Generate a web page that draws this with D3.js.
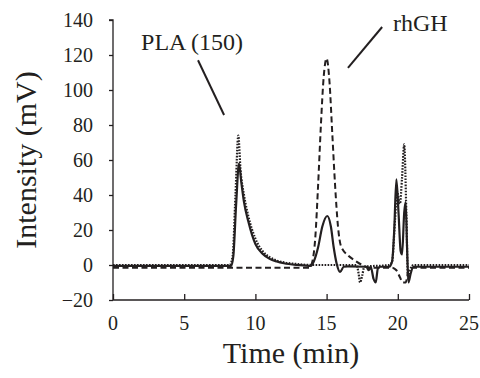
<!DOCTYPE html>
<html>
<head>
<meta charset="utf-8">
<script src="https://cdn.jsdelivr.net/npm/d3@7"></script>
<style>
  body { margin: 0; background: #fff; }
</style>
</head>
<body>
<div id="chart"></div>
<script>
const width = 480
const height = 378
const margin = { left: 113, right: 11, top: 20, bottom: 78 }
const serif = "Liberation Serif, Times New Roman, DejaVu Serif, serif"

const xTicks = [0, 5, 10, 15, 20, 25]
const yTicks = [-20, 0, 20, 40, 60, 80, 100, 120, 140]

// solid trace
const solidT = [0, 8.3, 8.45, 8.65, 8.85, 9.0, 9.2, 9.5, 10, 10.5, 11, 11.5, 12, 13, 13.9, 14.1, 14.4, 14.7, 15.05, 15.3, 15.5, 15.7, 15.95, 16.2, 16.5, 17.8, 17.95, 18.1, 18.3, 18.45, 18.6, 18.8, 19.4, 19.6, 19.75, 19.9, 20.05, 20.2, 20.3, 20.45, 20.55, 20.65, 20.75, 20.9, 21.1, 25]
const solidV = [-0.5, -0.5, 5, 35, 58, 48, 36, 25, 12, 6.5, 3.5, 2, 1, 0, -0.5, 2, 10, 22, 28, 22, 10, 1, -4, -1, -0.8, -1, -3, -1, -8, -10, -2, -1, -1, 2, 20, 49, 30, 8, 6, 30, 36, 10, -10, -5, -1, -1]

// dotted trace
const dotT = [0, 8.2, 8.4, 8.6, 8.8, 8.95, 9.2, 9.5, 10, 10.5, 11, 11.5, 12, 13, 14, 17.1, 17.25, 17.35, 17.5, 17.65, 19.4, 19.6, 19.8, 19.95, 20.15, 20.3, 20.45, 20.6, 20.72, 20.85, 21.1, 25]
const dotV = [0, 0, 5, 40, 74, 55, 40, 28, 15, 8, 4.5, 2.5, 1.5, 0.5, 0, 0, -5, -10, -6, -1, 0, 2, 25, 42, 35, 50, 69, 30, -8, -3, 0, 0]

// dashed trace (rhGH)
const dashT = [0, 13.8, 14.0, 14.2, 14.4, 14.6, 14.8, 15.0, 15.2, 15.4, 15.6, 15.8, 16.0, 16.5, 17.0, 17.5, 18.0, 19.6, 19.9, 20.15, 20.35, 20.55, 20.75, 20.9, 25]
const dashV = [-1.5, -1.5, 2, 15, 45, 80, 108, 118, 105, 75, 45, 22, 11, 5.5, 2.5, 0, -1.5, -1.5, -3, -7, -10, -10, -3, -1.5, -1.5]

const labels = ['PLA (150)', 'rhGH']
const labelAt = [[1.97, 123], [19.66, 134]]
const leaders = [[[5.97, 117], [7.8, 85.7]], [[18.9, 136], [16.5, 112.6]]]

const x = d3.scaleLinear().domain([0, 25]).range([margin.left, width - margin.right])
const y = d3.scaleLinear().domain([-20, 140]).range([height - margin.bottom, margin.top])

const svg = d3.select('#chart')
  .append('svg')
    .attr('width', width)
    .attr('height', height)
    .attr('font-family', serif)

const line = d3.line()
  .x(d => x(d[0]))
  .y(d => y(d[1]))
  .curve(d3.curveMonotoneX)

const series = [
  { t: dashT, v: dashV, dash: '6,3.5', w: 2 },
  { t: dotT, v: dotV, dash: '1.6,1.4', w: 2.2 },
  { t: solidT, v: solidV, dash: null, w: 2.2 },
]

svg.append('g')
  .selectAll('path')
  .data(series)
  .enter().append('path')
    .attr('d', s => line(s.t.map((t, i) => [t, s.v[i]])))
    .attr('fill', 'none')
    .attr('stroke', '#231f20')
    .attr('stroke-width', s => s.w)
    .attr('stroke-dasharray', s => s.dash)

// axes
svg.append('g')
  .attr('transform', `translate(0,${height - margin.bottom})`)
  .call(d3.axisTop(x).tickValues(xTicks).tickSize(6).tickFormat(''))
  .call(g => g.selectAll('path,line').attr('stroke', '#231f20').attr('stroke-width', 1.3))
  .call(g => g.select('.domain').attr('d', `M${x(0)},0H${x(25)}`))

svg.append('g')
  .selectAll('text')
  .data(xTicks)
  .enter().append('text')
    .attr('x', d => x(d))
    .attr('y', height - margin.bottom + 30)
    .attr('text-anchor', 'middle')
    .attr('font-size', 20)
    .attr('font-family', serif)
    .attr('fill', '#231f20')
    .text(d => d)

svg.append('g')
  .attr('transform', `translate(${margin.left},0)`)
  .call(d3.axisLeft(y).tickValues(yTicks).tickSize(4).tickPadding(16))
  .attr('font-family', serif)
  .call(g => g.selectAll('path,line').attr('stroke', '#231f20').attr('stroke-width', 1.3))
  .call(g => g.select('.domain').attr('d', `M-4,${y(140)}H0V${y(-20)}`))
  .call(g => g.selectAll('text')
    .attr('font-size', 20)
    .attr('font-family', serif)
    .attr('fill', '#231f20'))

svg.append('text')
  .attr('x', (x(0) + x(25)) / 2)
  .attr('y', 363)
  .attr('text-anchor', 'middle')
  .attr('font-size', 30)
  .attr('font-family', serif)
  .attr('fill', '#231f20')
  .text('Time (min)')

svg.append('text')
  .attr('transform', `translate(36,${(y(140) + y(-20)) / 2}) rotate(-90)`)
  .attr('text-anchor', 'middle')
  .attr('font-size', 30)
  .attr('font-family', serif)
  .attr('fill', '#231f20')
  .text('Intensity (mV)')

// annotations
svg.append('g')
  .selectAll('line')
  .data(leaders)
  .enter().append('line')
    .attr('x1', d => x(d[0][0]))
    .attr('y1', d => y(d[0][1]))
    .attr('x2', d => x(d[1][0]))
    .attr('y2', d => y(d[1][1]))
    .attr('stroke', '#231f20')
    .attr('stroke-width', 2)

svg.append('g')
  .selectAll('text')
  .data(labels)
  .enter().append('text')
    .attr('x', (d, i) => x(labelAt[i][0]))
    .attr('y', (d, i) => y(labelAt[i][1]))
    .attr('font-size', 24)
    .attr('font-family', serif)
    .attr('fill', '#231f20')
    .text(d => d)
</script>
</body>
</html>
